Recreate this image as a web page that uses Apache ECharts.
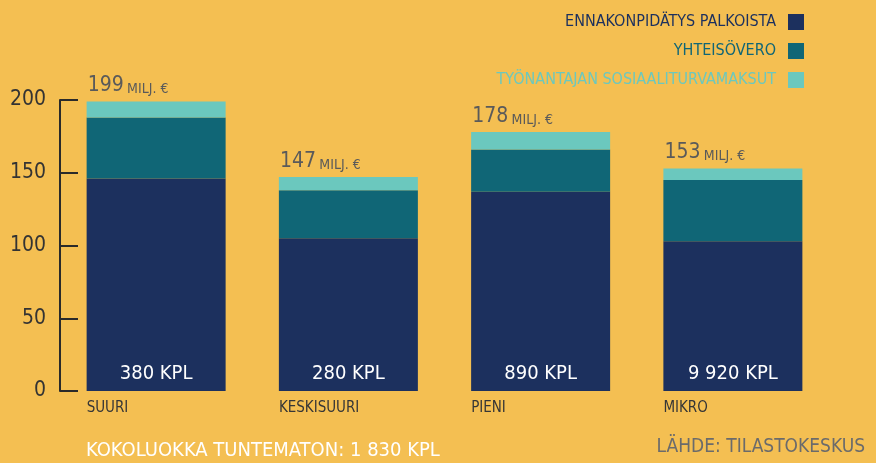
<!DOCTYPE html>
<html>
<head>
<meta charset="utf-8">
<script src="https://cdn.jsdelivr.net/npm/echarts@6/dist/echarts.min.js"></script>
<style>
  html, body { margin: 0; padding: 0; background: #f4bf52; }
  #chart { width: 876px; height: 463px; }
</style>
</head>
<body>
<div id="chart"></div>
<script>
// Yritysten maksamat verot kokoluokittain (milj. €)
const categories = ['SUURI', 'KESKISUURI', 'PIENI', 'MIKRO'];
const ennakonpidatys = [146, 105, 137, 103];
const yhteisovero = [42, 33, 29, 42];
const sosiaaliturvamaksut = [11, 9, 12, 8];
const yritysmaarat = ['380 KPL', '280 KPL', '890 KPL', '9 920 KPL'];
const seriesNames = ['ENNAKONPIDÄTYS PALKOISTA', 'YHTEISÖVERO', 'TYÖNANTAJAN SOSIAALITURVAMAKSUT'];
const yTickValues = [0, 50, 100, 150, 200];

const FONT = "'DejaVu Sans Condensed', 'Liberation Sans Narrow', 'Roboto', sans-serif";
const NAVY = '#1c305e';
const TEAL = '#106676';
const LIGHT = '#6bc8be';

const totals = categories.map((_, i) => ennakonpidatys[i] + yhteisovero[i] + sosiaaliturvamaksut[i]);

const chart = echarts.init(document.getElementById('chart'));
chart.setOption({
  backgroundColor: '#f4bf52',
  animation: false,
  textStyle: { fontFamily: FONT },
  title: [
    {
      text: 'KOKOLUOKKA TUNTEMATON: 1 830 KPL',
      left: 81, top: 436,
      textStyle: { color: '#ffffff', fontFamily: FONT, fontSize: 20, fontWeight: 'normal' }
    },
    {
      text: 'LÄHDE: TILASTOKESKUS',
      right: 6, top: 433,
      textStyle: { color: '#6b6b6b', fontFamily: FONT, fontSize: 19, fontWeight: 'normal' }
    }
  ],
  legend: {
    orient: 'vertical',
    align: 'right',
    right: 67,
    top: 6,
    itemWidth: 16,
    itemHeight: 16,
    itemGap: 7,
    icon: 'rect',
    textStyle: { fontFamily: FONT, fontSize: 16, lineHeight: 22, padding: [0, 7, 0, 0] },
    data: [
      { name: seriesNames[0], textStyle: { color: NAVY } },
      { name: seriesNames[1], textStyle: { color: TEAL } },
      { name: seriesNames[2], textStyle: { color: LIGHT } }
    ]
  },
  grid: { left: 60, right: 47, top: 100, bottom: 72 },
  xAxis: {
    type: 'category',
    data: categories,
    axisLine: { show: false },
    axisTick: { show: false },
    axisLabel: {
      margin: 10,
      formatter: v => '{l|' + v + '}',
      rich: {
        l: { align: 'left', width: 139, color: '#363636', fontSize: 15, fontFamily: FONT }
      }
    }
  },
  yAxis: {
    type: 'value',
    min: 0,
    max: 200,
    interval: 50,
    splitLine: { show: false },
    axisLine: { show: true, lineStyle: { color: '#2a2a2a', width: 2 } },
    axisTick: { show: true, inside: true, length: 18, lineStyle: { color: '#2a2a2a', width: 2 } },
    axisLabel: {
      margin: 14,
      color: '#333333',
      fontSize: 21,
      fontFamily: FONT,
      formatter: v => (yTickValues.indexOf(v) >= 0 ? String(v) : '')
    }
  },
  series: [
    {
      name: seriesNames[0],
      type: 'bar',
      stack: 'verot',
      barWidth: 139,
      itemStyle: { color: NAVY },
      data: ennakonpidatys,
      label: {
        show: true,
        position: 'insideBottom',
        distance: 7,
        color: '#ffffff',
        fontSize: 20,
        fontFamily: FONT,
        formatter: p => yritysmaarat[p.dataIndex]
      }
    },
    {
      name: seriesNames[1],
      type: 'bar',
      stack: 'verot',
      barWidth: 139,
      itemStyle: { color: TEAL },
      data: yhteisovero
    },
    {
      name: seriesNames[2],
      type: 'bar',
      stack: 'verot',
      barWidth: 139,
      itemStyle: { color: LIGHT },
      data: sosiaaliturvamaksut,
      label: {
        show: true,
        position: [1, -29],
        formatter: p => '{a|' + totals[p.dataIndex] + '} {b|MILJ. €}',
        rich: {
          a: { fontSize: 21, color: '#5a5a5a', fontFamily: FONT, verticalAlign: 'bottom', lineHeight: 24 },
          b: { fontSize: 14, color: '#5a5a5a', fontFamily: FONT, verticalAlign: 'bottom', lineHeight: 20 }
        }
      }
    }
  ]
});
</script>
</body>
</html>
